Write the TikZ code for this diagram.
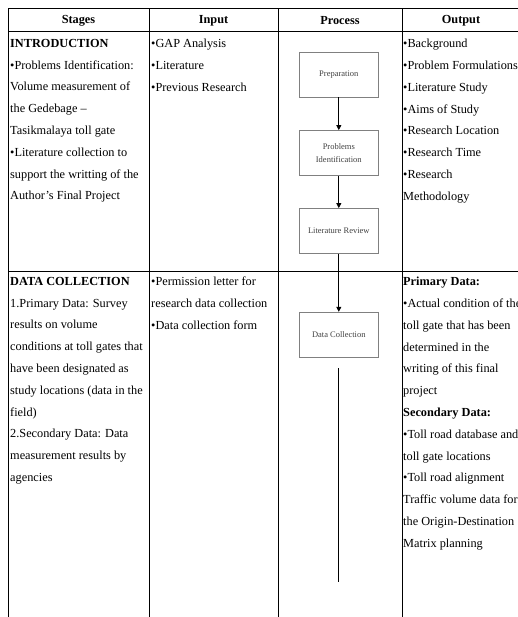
\documentclass[tikz,border=0pt]{standalone}
\usepackage{fontspec}
\setmainfont{Liberation Serif}
\usetikzlibrary{arrows.meta}
\begin{document}
\begin{tikzpicture}[x=1pt,y=-1pt,
  grid/.style={draw=black, line width=1pt},
  cell/.style={anchor=north west, inner sep=0pt, align=left, font=\fontsize{12.3}{21.8}\selectfont},
  head/.style={inner sep=0pt, font=\bfseries\fontsize{12.3}{14}\selectfont},
  pbox/.style={draw=black!50, line width=0.8pt, minimum width=79pt, minimum height=45pt, inner sep=1pt, align=center, text=black!75, font=\fontsize{8.5}{12.5}\selectfont},
  flow/.style={draw=black, line width=0.8pt, -{Triangle[length=5pt,width=5pt]}},
  trunk/.style={draw=black, line width=1.6pt}
]
\useasboundingbox (0,0) rectangle (517,617);
% table grid
\draw[grid] (8,617) -- (8,9) -- (530,9);
\draw[grid] (8,32) -- (530,32);
\draw[grid] (8,271) -- (530,271);
\foreach \x in {149,278,402} \draw[grid] (\x,9) -- (\x,617);
% headers
\node[head] (hStages) at (78.5,21) {Stages};
\node[head] (hInput) at (213.5,21) {Input};
\node[head] (hProcess) at (340,21) {Process};
\node[head] (hOutput) at (461,21) {Output};
% row 1
\node[cell] (s1) at (10,39) {\textbf{INTRODUCTION}\\
•Problems Identification:\\
Volume measurement of\\
the Gedebage –\\
Tasikmalaya toll gate\\
•Literature collection to\\
support the writting of the\\
Author's Final Project};
\node[cell] (i1) at (151,39) {•GAP Analysis\\
•Literature\\
•Previous Research};
\node[cell] (o1) at (403,39) {•Background\\
•Problem Formulations\\
•Literature Study\\
•Aims of Study\\
•Research Location\\
•Research Time\\
•Research\\
Methodology};
% row 2
\node[cell] (s2) at (10,277) {\textbf{DATA COLLECTION}\\
1.Primary Data: Survey\\
results on volume\\
conditions at toll gates that\\
have been designated as\\
study locations (data in the\\
field)\\
2.Secondary Data: Data\\
measurement results by\\
agencies};
\node[cell] (i2) at (151,277) {•Permission letter for\\
research data collection\\
•Data collection form};
\node[cell] (o2) at (403,277) {\textbf{Primary Data:}\\
•Actual condition of the\\
toll gate that has been\\
determined in the\\
writing of this final\\
project\\
\textbf{Secondary Data:}\\
•Toll road database and\\
toll gate locations\\
•Toll road alignment\\
Traffic volume data for\\
the Origin-Destination\\
Matrix planning};
% process boxes
\node[pbox] (prep) at (338.8,74.5) {Preparation};
\node[pbox] (prob) at (338.8,153) {Problems\\Identification};
\node[pbox] (lit) at (338.8,231) {Literature Review};
\node[pbox] (dc) at (338.8,334.7) {Data Collection};
\draw[flow] (prep) -- (prob);
\draw[flow] (prob) -- (lit);
\draw[flow] (lit) -- (dc);
\coordinate (trunkTop) at (338.5,368);
\coordinate (trunkBot) at (338.5,582);
\draw[trunk] (trunkTop) -- (trunkBot);
\end{tikzpicture}
\end{document}
